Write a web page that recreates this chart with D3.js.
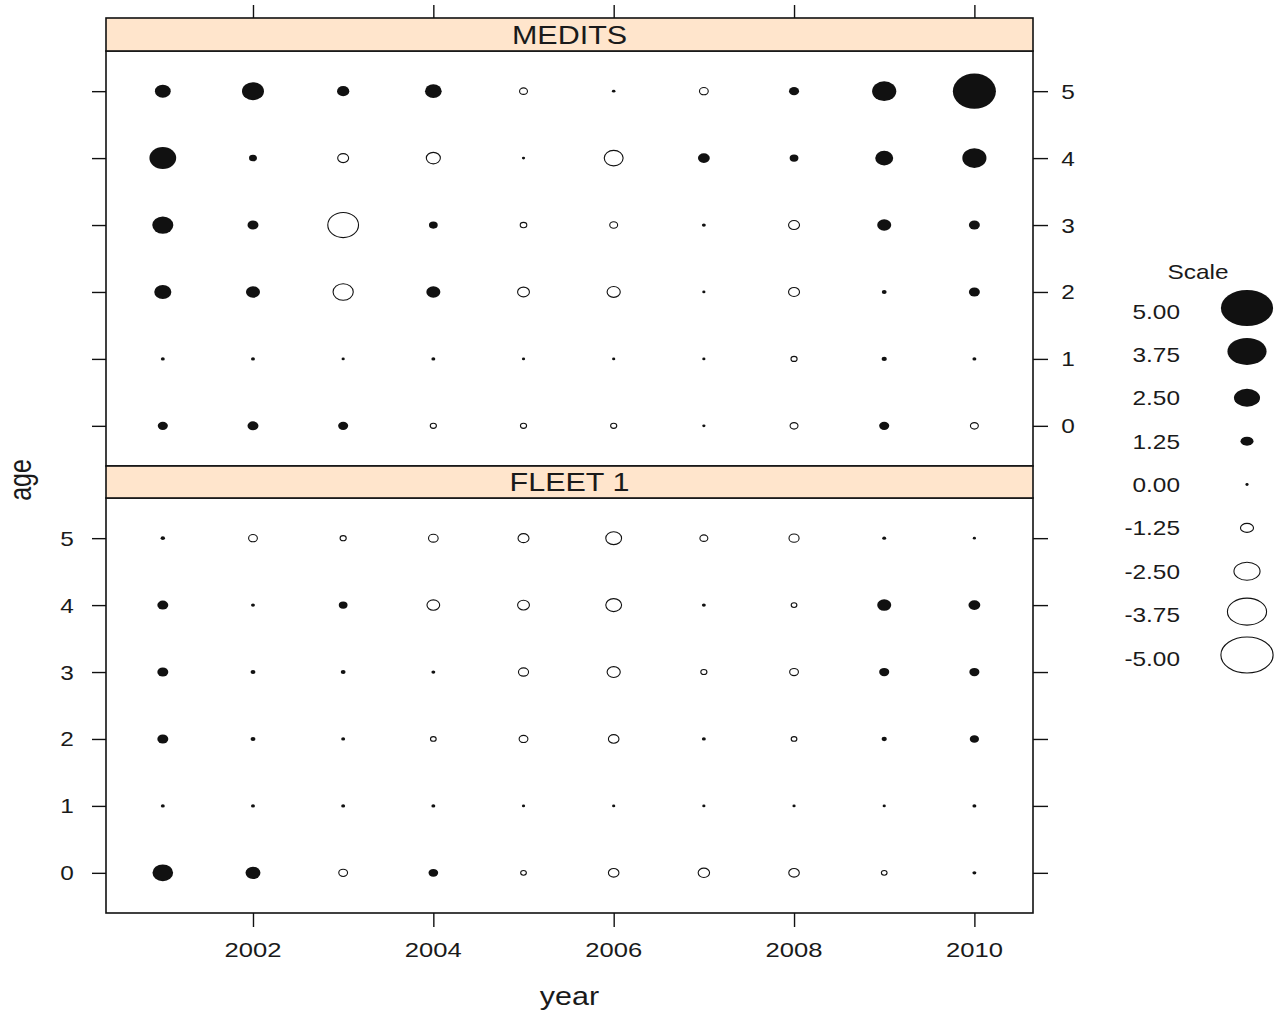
<!DOCTYPE html>
<html>
<head>
<meta charset="utf-8">
<script src="https://cdn.jsdelivr.net/npm/d3@7"></script>
<style>
  html, body { margin: 0; padding: 0; background: #ffffff; }
  svg text { font-family: "Liberation Sans", Arial, sans-serif; fill: #1a1a1a; }
</style>
</head>
<body>
<svg id="chart" width="1279" height="1013"></svg>
<script>
// ---------------- data ----------------
const years = [2001, 2002, 2003, 2004, 2005, 2006, 2007, 2008, 2009, 2010];
const ages = [0, 1, 2, 3, 4, 5];
const panels = ["MEDITS", "FLEET 1"];
const yearTicks = [2002, 2004, 2006, 2008, 2010];
const ageTicks = [0, 1, 2, 3, 4, 5];
const scaleValues = [5, 3.75, 2.5, 1.25, 0, -1.25, -2.5, -3.75, -5];
const scaleLabels = ["5.00", "3.75", "2.50", "1.25", "0.00", "-1.25", "-2.50", "-3.75", "-5.00"];

// residuals per age, years 2001..2010
const meditsAge0 = [1.15, 1.25, 1.15, -0.7, -0.7, -0.7, 0.2, -0.9, 1.15, -0.9];
const meditsAge1 = [0.45, 0.45, 0.3, 0.45, 0.3, 0.25, 0.25, -0.7, 0.6, 0.45];
const meditsAge2 = [1.95, 1.6, -2.3, 1.6, -1.35, -1.5, 0.35, -1.25, 0.55, 1.25];
const meditsAge3 = [2.4, 1.25, -3.5, 1.0, -0.75, -0.9, 0.45, -1.25, 1.6, 1.25];
const meditsAge4 = [3.05, 0.9, -1.25, -1.6, 0.2, -2.15, 1.35, 1.0, 2.05, 2.75];
const meditsAge5 = [1.8, 2.5, 1.4, 1.9, -0.9, 0.4, -1.0, 1.15, 2.75, 4.9];

const fleetAge0 = [2.35, 1.7, -1.0, 1.1, -0.65, -1.2, -1.3, -1.2, -0.65, 0.45];
const fleetAge1 = [0.45, 0.45, 0.45, 0.45, 0.3, 0.3, 0.3, 0.3, 0.3, 0.45];
const fleetAge2 = [1.25, 0.55, 0.45, -0.65, -1.0, -1.2, 0.45, -0.65, 0.6, 1.05];
const fleetAge3 = [1.25, 0.55, 0.55, 0.45, -1.15, -1.5, -0.7, -1.0, 1.15, 1.15];
const fleetAge4 = [1.25, 0.45, 1.0, -1.45, -1.35, -1.8, 0.45, -0.65, 1.6, 1.35];
const fleetAge5 = [0.5, -1.0, -0.7, -1.1, -1.25, -1.8, -0.9, -1.15, 0.45, 0.3];

const panelData = {
  "MEDITS": [meditsAge0, meditsAge1, meditsAge2, meditsAge3, meditsAge4, meditsAge5],
  "FLEET 1": [fleetAge0, fleetAge1, fleetAge2, fleetAge3, fleetAge4, fleetAge5]
};

// ---------------- layout ----------------
const svg = d3.select("#chart");
const FONT_STRETCH = 1.22;      // horizontal stretch of the original raster
const PANEL_ASPECT = 1.22;
const LEGEND_ASPECT = 1.45;

const plotLeft = 106, plotRight = 1033;
const panelBoxes = [
  { name: "MEDITS",  stripTop: 18,  stripBottom: 51,  top: 51,  bottom: 466 },
  { name: "FLEET 1", stripTop: 466, stripBottom: 498, top: 498, bottom: 913 }
];

const x = d3.scaleLinear().domain([2000.37, 2010.65]).range([plotLeft, plotRight]);
const size = d3.scaleLinear().domain([0, 5]).range([0, 36]); // symbol height

function stretchedText(g, tx, ty, str, fs, anchor, extra) {
  return g.append("text")
    .attr("transform", `translate(${tx},${ty}) scale(${FONT_STRETCH},1)` + (extra || ""))
    .attr("text-anchor", anchor || "middle")
    .style("font-size", fs + "px")
    .text(str);
}

panelBoxes.forEach((p, pi) => {
  const y = d3.scaleLinear().domain([-0.6, 5.6]).range([p.bottom, p.top]);
  const g = svg.append("g");

  // bubbles
  const rows = panelData[p.name];
  const pts = [];
  ages.forEach((a, ai) => years.forEach((yr, yi) => pts.push({ age: a, year: yr, v: rows[ai][yi] })));
  g.selectAll("ellipse.b").data(pts).enter().append("ellipse")
    .attr("class", "b")
    .attr("cx", d => x(d.year))
    .attr("cy", d => y(d.age))
    .attr("ry", d => Math.max(size(Math.abs(d.v)), 2.8) / 2)
    .attr("rx", d => Math.max(size(Math.abs(d.v)) * PANEL_ASPECT, 3.2) / 2)
    .attr("fill", d => d.v >= 0 ? "#111" : "none")
    .attr("stroke", "#111")
    .attr("stroke-width", d => d.v >= 0 ? 0 : 1.1);

  // frame
  g.append("rect").attr("x", plotLeft).attr("y", p.top)
    .attr("width", plotRight - plotLeft).attr("height", p.bottom - p.top)
    .attr("fill", "none").attr("stroke", "#111").attr("stroke-width", 1.6);

  // strip
  g.append("rect").attr("x", plotLeft).attr("y", p.stripTop)
    .attr("width", plotRight - plotLeft).attr("height", p.stripBottom - p.stripTop)
    .attr("fill", "#ffe5cc").attr("stroke", "#111").attr("stroke-width", 1.6);
  stretchedText(g, (plotLeft + plotRight) / 2, (p.stripTop + p.stripBottom) / 2 + 9, p.name, 25);

  // left / right y-axes (ticks via d3 axis)
  const leftAxis = d3.axisLeft(y).tickValues(ageTicks).tickSize(14).tickFormat("");
  const rightAxis = d3.axisRight(y).tickValues(ageTicks).tickSize(15).tickFormat("");
  const la = g.append("g").attr("transform", `translate(${plotLeft},0)`).call(leftAxis);
  const ra = g.append("g").attr("transform", `translate(${plotRight},0)`).call(rightAxis);
  [la, ra].forEach(ax => {
    ax.select(".domain").remove();
    ax.selectAll("line").attr("stroke", "#111").attr("stroke-width", 1.4);
  });

  // labels: top panel on right, bottom panel on left (lattice alternating)
  ageTicks.forEach(t => {
    if (pi === 0) stretchedText(g, 1068, y(t) + 7.5, String(t), 20);
    else stretchedText(g, 67, y(t) + 7.5, String(t), 20);
  });
});

// x axes: top (ticks only) and bottom (ticks + labels)
const topAxis = d3.axisTop(x).tickValues(yearTicks).tickSize(13).tickFormat("");
const bottomAxis = d3.axisBottom(x).tickValues(yearTicks).tickSize(14).tickFormat("");
const ta = svg.append("g").attr("transform", `translate(0,${panelBoxes[0].stripTop})`).call(topAxis);
const ba = svg.append("g").attr("transform", `translate(0,${panelBoxes[1].bottom})`).call(bottomAxis);
[ta, ba].forEach(ax => {
  ax.select(".domain").remove();
  ax.selectAll("line").attr("stroke", "#111").attr("stroke-width", 1.4);
});
yearTicks.forEach(t => stretchedText(svg, x(t), 957, String(t), 21));

// axis titles
stretchedText(svg, (plotLeft + plotRight) / 2, 1005, "year", 25);
svg.append("text")
  .attr("transform", `translate(31,480) scale(${FONT_STRETCH},1) rotate(-90)`)
  .attr("text-anchor", "middle")
  .style("font-size", "25px")
  .text("age");

// legend
const lg = svg.append("g");
stretchedText(lg, 1198, 279, "Scale", 20);
const rowY = d3.scalePoint().domain(scaleValues).range([311, 658]);
scaleValues.forEach((v, i) => {
  stretchedText(lg, 1180, rowY(v) + 7.5, scaleLabels[i], 20, "end");
});
lg.selectAll("ellipse").data(scaleValues).enter().append("ellipse")
  .attr("cx", 1247)
  .attr("cy", d => rowY(d) - (Math.abs(d) > 3 ? 3 : 0))
  .attr("ry", d => Math.max(size(Math.abs(d)), 2.8) / 2)
  .attr("rx", d => Math.max(size(Math.abs(d)) * LEGEND_ASPECT, 3.2) / 2)
  .attr("fill", d => d >= 0 ? "#111" : "none")
  .attr("stroke", "#111")
  .attr("stroke-width", d => d >= 0 ? 0 : 1.1);
</script>
</body>
</html>
